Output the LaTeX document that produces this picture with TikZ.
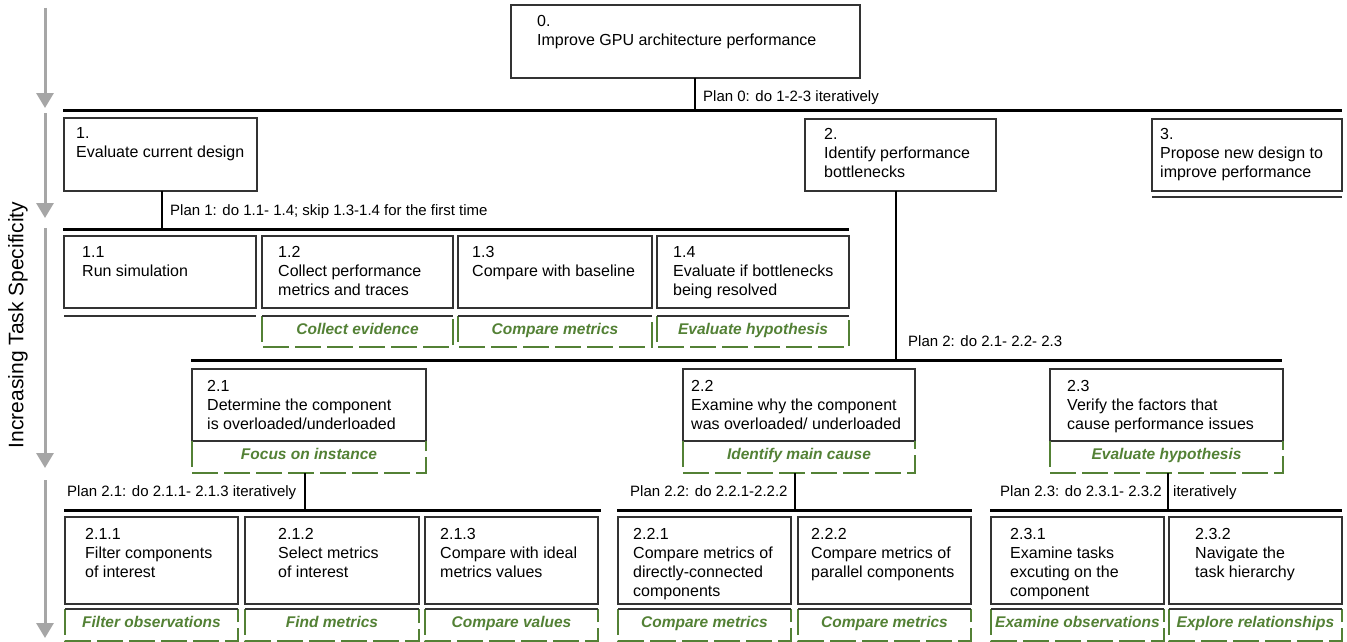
\documentclass[tikz,border=0pt]{standalone}
\usepackage{fontspec}
\setmainfont{Liberation Sans}
\usepackage{tikz}
\usetikzlibrary{arrows.meta,fit}
\definecolor{boxGray}{HTML}{333333}
\definecolor{evidGreen}{HTML}{538135}
\definecolor{axisGray}{HTML}{A6A6A6}

\begin{document}
\begin{tikzpicture}[x=1pt,y=-1pt,
    taskbox/.style={draw=boxGray,line width=1.8pt,inner sep=0pt,outer sep=0pt},
    tasktxt/.style={anchor=north west,inner sep=0pt,align=left,font=\fontsize{16}{19}\selectfont},
    plantxt/.style={anchor=base west,inner sep=0pt,font=\fontsize{15}{18}\selectfont},
    evidbox/.style={inner sep=0pt,outer sep=0pt},
    evidtxt/.style={anchor=mid,inner sep=0pt,text=evidGreen,font=\fontsize{15.5}{18}\selectfont\bfseries\itshape},
    evidline/.style={draw=evidGreen,line width=1.5pt,dash pattern=on 26pt off 6pt},
    stopline/.style={draw=boxGray,line width=1.6pt},
    planbar/.style={draw=black,line width=3pt},
    stem/.style={draw=black,line width=2.4pt},
    levelarrow/.style={draw=axisGray,line width=3pt,-{Triangle[width=17pt,length=15pt]}}]
    \useasboundingbox (0,0) rectangle (1347,642);
    \fill[white] (0,0) rectangle (1347,642);

    \foreach \ya/\yb in {8/108,113/218,228/468,480/638}
      \draw[levelarrow] (45,\ya)--(45,\yb);
    \node[rotate=90,inner sep=0pt,font=\fontsize{21}{24}\selectfont] (axis) at (18,325)
      {Increasing Task Specificity};

    \node[taskbox,fit={(511,5) (860,78)}] (t0) {};
    \node[tasktxt] (x0) at (537,15) {0.\\Improve GPU architecture performance};

    \coordinate (b0l) at (63,110);
    \coordinate (b0r) at (1342,110);
    \coordinate (s0) at (695,110);
    \draw[planbar] (b0l)--(b0r);
    \draw[stem] (s0 |- t0.south)--(s0);
    \node[plantxt] (p0) at (703,101.5) {Plan 0: do 1-2-3 iteratively};

    \node[taskbox,fit={(64,118) (257,191)}] (t1) {};
    \node[tasktxt] (x1) at (76,127.6) {1.\\Evaluate current design};
    \node[taskbox,fit={(805,119) (996,191)}] (t2) {};
    \node[tasktxt] (x2) at (824,128.6) {2.\\Identify performance\\bottlenecks};
    \node[taskbox,fit={(1152,119) (1342,191)}] (t3) {};
    \node[tasktxt] (x3) at (1160,128.6) {3.\\Propose new design to\\improve performance};
    \draw[stopline] ([yshift=-6pt]t3.south west)--([yshift=-6pt]t3.south east);

    \coordinate (b1l) at (63,229);
    \coordinate (b1r) at (849,229);
    \coordinate (s1) at (162,229);
    \draw[planbar] (b1l)--(b1r);
    \draw[stem] (s1 |- t1.south)--(s1);
    \node[plantxt] (p1) at (170,215.5) {Plan 1: do 1.1- 1.4; skip 1.3-1.4 for the first time};

    \foreach \nm/\xa/\xb/\tx/\txt in {11/64/256/82/{1.1\\Run simulation},
        12/262/453/278/{1.2\\Collect performance\\metrics and traces},
        13/458/652/472/{1.3\\Compare with baseline},
        14/657/849/673/{1.4\\Evaluate if bottlenecks\\being resolved}}
    {
      \node[taskbox,fit={(\xa,236) (\xb,308)}] (t\nm) {};
      \node[tasktxt] (x\nm) at (\tx,246) {\txt};
    }
    \draw[stopline] ([yshift=-8pt]t11.south west)--([yshift=-8pt]t11.south east);
    \foreach \nm/\xa/\xb/\ev in {12/262/453/Collect evidence,
        13/458/652/Compare metrics,14/657/849/Evaluate hypothesis}
    {
      \node[evidbox,fit={(\xa,316) (\xb,347)}] (g\nm) {};
      \node[evidtxt] (e\nm) at (g\nm.center) {\ev};
      \draw[evidline] (g\nm.north west)--(g\nm.south west)--(g\nm.south east)--(g\nm.north east);
      \draw[stopline] (g\nm.north west)--(g\nm.north east);
    }

    \coordinate (b2l) at (191,360);
    \coordinate (b2r) at (1282,360);
    \coordinate (s2) at (896,360);
    \draw[planbar] (b2l)--(b2r);
    \draw[stem] (s2 |- t2.south)--(s2);
    \node[plantxt] (p2) at (908,346.5) {Plan 2: do 2.1- 2.2- 2.3};

    \foreach \nm/\xa/\xb/\tx/\txt/\ev in {21/192/426/207/{2.1\\Determine the component\\is overloaded/underloaded}/Focus on instance,
        22/683/915/691/{2.2\\Examine why the component\\was overloaded/ underloaded}/Identify main cause,
        23/1050/1283/1067/{2.3\\Verify the factors that\\cause performance issues}/Evaluate hypothesis}
    {
      \node[taskbox,fit={(\xa,369) (\xb,441)}] (t\nm) {};
      \node[tasktxt] (x\nm) at (\tx,380) {\txt};
      \node[evidbox,fit={(\xa,441) (\xb,473)}] (g\nm) {};
      \node[evidtxt] (e\nm) at (g\nm.center) {\ev};
      \draw[evidline] (g\nm.north west)--(g\nm.south west)--(g\nm.south east)--(g\nm.north east);
    }

    \coordinate (b21l) at (64,510);
    \coordinate (b21r) at (601,510);
    \coordinate (s21) at (305,510);
    \coordinate (b22l) at (617,510);
    \coordinate (b22r) at (972,510);
    \coordinate (s22) at (795,510);
    \coordinate (b23l) at (990,510);
    \coordinate (b23r) at (1342,510);
    \coordinate (s23) at (1168,510);
    \draw[planbar] (b21l)--(b21r);
    \draw[planbar] (b22l)--(b22r);
    \draw[planbar] (b23l)--(b23r);
    \draw[stem] (s21 |- g21.south)--(s21);
    \draw[stem] (s22 |- g22.south)--(s22);
    \draw[stem] (s23 |- g23.south)--(s23);
    \node[plantxt] (p21) at (67,496.5) {Plan 2.1: do 2.1.1- 2.1.3 iteratively};
    \node[plantxt] (p22) at (630,496.5) {Plan 2.2: do 2.2.1-2.2.2};
    \node[plantxt] (p23) at (1000,496.5) {Plan 2.3: do 2.3.1- 2.3.2};
    \node[plantxt] (p23b) at (1173,496.5) {iteratively};

    \foreach \nm/\xa/\xb/\tx/\txt/\ev in {211/65/238/85/{2.1.1\\Filter components\\of interest}/Filter observations,
        212/245/419/278/{2.1.2\\Select metrics\\of interest}/Find metrics,
        213/425/598/440/{2.1.3\\Compare with ideal\\metrics values}/Compare values,
        221/618/791/633/{2.2.1\\Compare metrics of\\directly-connected\\components}/Compare metrics,
        222/798/971/811/{2.2.2\\Compare metrics of\\parallel components}/Compare metrics,
        231/991/1164/1010/{2.3.1\\Examine tasks\\excuting on the\\component}/Examine observations,
        232/1169/1342/1195/{2.3.2\\Navigate the\\task hierarchy}/Explore relationships}
    {
      \node[taskbox,fit={(\xa,517) (\xb,604)}] (t\nm) {};
      \node[tasktxt] (x\nm) at (\tx,528.5) {\txt};
      \node[evidbox,fit={(\xa,609) (\xb,641)}] (g\nm) {};
      \node[evidtxt] (e\nm) at (g\nm.center) {\ev};
      \draw[evidline] (g\nm.north west)--(g\nm.south west)--(g\nm.south east)--(g\nm.north east);
      \draw[stopline] (g\nm.north west)--(g\nm.north east);
    }
  \end{tikzpicture}
\end{document}
